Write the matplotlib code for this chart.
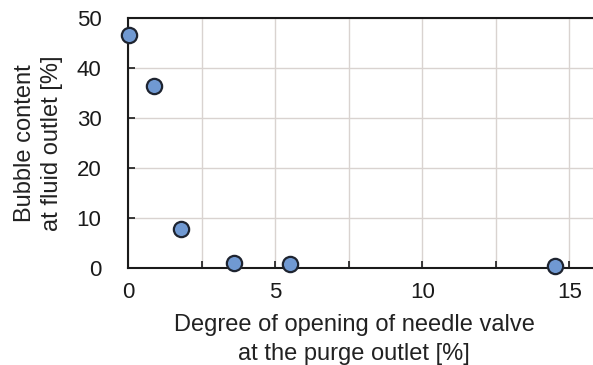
import matplotlib
matplotlib.use("Agg")
from matplotlib import pyplot as plt
import numpy as np

# apertura de la valvula [%] vs contenido de burbujas [%]
apertura = [0.05, 0.9, 1.8, 3.6, 5.5, 14.5]
burbujas = [46.6, 36.4, 7.8, 1.0, 0.8, 0.5]

plt.rcParams['font.family'] = ['Liberation Sans', 'DejaVu Sans']

fig = plt.figure(figsize=(5.93, 3.65), dpi=100)
ax = fig.add_axes([128/593, 1 - 268/365, 1 - 128/593 + 0.01, 250/365])

ax.set_xlim(0, 16.0)
ax.set_ylim(0, 50)
ax.set_xticks(np.arange(0, 16, 2.5))
ax.set_xticklabels(['0', '', '5', '', '10', '', '15'])
ax.set_yticks(np.arange(0, 51, 10))
ax.grid(True, color='#d9d3d0', linewidth=1.0)
ax.set_axisbelow(True)

ax.plot(apertura, burbujas, marker='o', linestyle='None', markersize=11,
        markerfacecolor='#7099d2', markeredgecolor='#1e2430', markeredgewidth=1.6,
        clip_on=False, zorder=5)

for s in ['left', 'bottom', 'top']:
    ax.spines[s].set_linewidth(1.5)
    ax.spines[s].set_color('#1a1a1a')
ax.spines['right'].set_visible(False)

ax.tick_params(direction='in', length=5, width=1.2, labelsize=16, colors='#1a1a1a')
ax.tick_params(axis='y', pad=19)
ax.tick_params(axis='x', pad=10)

ax.set_xlabel('Degree of opening of needle valve\nat the purge outlet [%]', fontsize=17,
              color='#222222', labelpad=7, linespacing=1.4)
ax.set_ylabel('Bubble content\nat fluid outlet [%]', fontsize=17, color='#222222',
              labelpad=10, linespacing=1.3)
ax.xaxis.set_label_coords(0.48, -0.185)
ax.xaxis.label.set_verticalalignment('top')

fig.savefig('out.png', dpi=100)
